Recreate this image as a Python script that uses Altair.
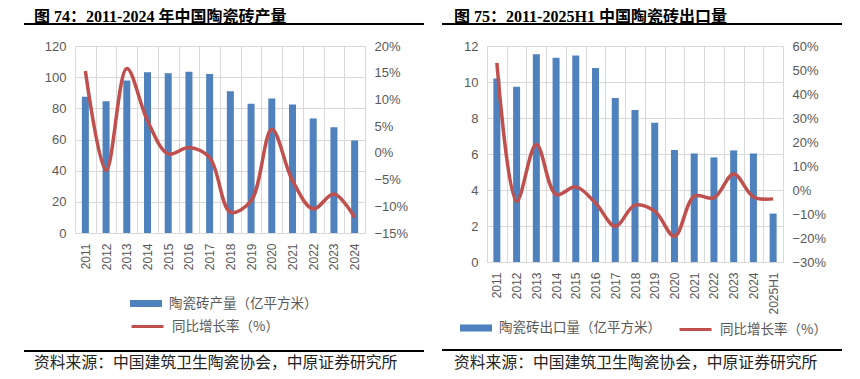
import altair as alt
import pandas as pd

# ---------------- data ----------------
years1 = [str(y) for y in range(2011, 2025)]
production = [87.5, 84.6, 97.8, 103.1, 102.5, 103.4, 102.0, 91.0, 82.9, 86.3, 82.4, 73.5, 67.9, 59.4]
production_growth = [15.3, -3.3, 15.8, 6.0, -0.2, 1.0, -0.9, -11.1, -9.0, 4.4, -5.2, -10.5, -7.7, -12.1]

years2 = [str(y) for y in range(2011, 2025)] + ["2025H1"]
exports = [10.19, 9.74, 11.54, 11.35, 11.47, 10.78, 9.11, 8.44, 7.74, 6.22, 6.03, 5.81, 6.20, 6.03, 2.69]
export_growth = [53.0, -4.7, 19.0, -1.9, 1.3, -5.4, -15.1, -6.3, -8.8, -19.3, -2.6, -3.3, 6.7, -2.9, -3.7]

title1 = "图 74：2011-2024 年中国陶瓷砖产量"
title2 = "图 75：2011-2025H1 中国陶瓷砖出口量"
bar_label1 = "陶瓷砖产量（亿平方米）"
bar_label2 = "陶瓷砖出口量（亿平方米）"
line_label = "同比增长率（%）"
source_text = "资料来源：中国建筑卫生陶瓷协会，中原证券研究所"

BLUE = "#4F81BD"
RED = "#C0504D"
GRID = "#D9D9D9"
LABEL = "#595959"
CJK = "Noto Sans CJK SC"
TITLE_FONT = "Liberation Serif, Noto Sans CJK SC"


def panel(years, values, growth, bar_label, y_max, y_step, g_min, g_max, g_step,
          width, height, title, title_x, rule_x1, rule_x2, bottom_rule_y,
          fill_legend, stroke_legend):
    df = pd.DataFrame({
        "year": years,
        "value": values,
        "growth": [g / 100 for g in growth],
        "bar_series": bar_label,
        "line_series": line_label,
    })
    one = pd.DataFrame({"k": [0]})

    x = alt.X(
        "year:N", sort=years,
        scale=alt.Scale(paddingInner=0, paddingOuter=0),
        axis=alt.Axis(title=None, labelAngle=-90, tickBand="extent", grid=True,
                      ticks=False, domain=False, labelPadding=10, labelFontSize=12),
    )

    bars = alt.Chart(df).mark_bar(size=7, color=BLUE).encode(
        x=x,
        y=alt.Y("value:Q",
                scale=alt.Scale(domain=[0, y_max], nice=False, zero=True),
                axis=alt.Axis(orient="left", title=None, grid=True, ticks=False,
                              domain=False, labelPadding=9, labelFontSize=13,
                              values=list(range(0, y_max + 1, y_step)))),
        fill=alt.Fill("bar_series:N",
                      scale=alt.Scale(domain=[bar_label], range=[BLUE]),
                      legend=alt.Legend(title=None, orient="none", padding=0,
                                        symbolType="M-1,-0.22H1V0.22H-1Z",
                                        symbolSize=1024, symbolStrokeWidth=0,
                                        symbolOpacity=1, labelLimit=400,
                                        labelFont=CJK, labelFontSize=13.5,
                                        labelColor=LABEL, labelOffset=7,
                                        **fill_legend)),
    )

    line = alt.Chart(df).mark_line(interpolate="catmull-rom", strokeWidth=3.5).encode(
        x=x,
        y=alt.Y("growth:Q",
                scale=alt.Scale(domain=[g_min / 100, g_max / 100], nice=False, zero=False),
                axis=alt.Axis(orient="right", title=None, grid=False, ticks=False,
                              domain=False, labelPadding=9, format=".0%", labelFontSize=13,
                              values=[v / 100 for v in range(g_min, g_max + 1, g_step)])),
        stroke=alt.Stroke("line_series:N",
                          scale=alt.Scale(domain=[line_label], range=[RED]),
                          legend=alt.Legend(title=None, orient="none", padding=0,
                                            symbolType="stroke", symbolSize=1024,
                                            symbolStrokeWidth=3, labelLimit=400,
                                            labelFont=CJK, labelFontSize=13.5,
                                            labelColor=LABEL, labelOffset=7,
                                            **stroke_legend)),
    )

    header = alt.Chart(one).mark_text(
        text=title, align="left", baseline="top", font=TITLE_FONT,
        fontSize=16, fontWeight="bold", color="#000000",
    ).encode(x=alt.value(title_x), y=alt.value(-37))

    top_rule = alt.Chart(one).mark_rule(color="#000000", strokeWidth=2).encode(
        x=alt.value(rule_x1), x2=alt.value(rule_x2), y=alt.value(-22))

    bottom_rule = alt.Chart(one).mark_rule(color="#000000", strokeWidth=2).encode(
        x=alt.value(rule_x1), x2=alt.value(rule_x2), y=alt.value(bottom_rule_y))

    source = alt.Chart(one).mark_text(
        text=source_text, align="left", baseline="middle", font=CJK,
        fontSize=15.8, color="#222222",
    ).encode(x=alt.value(title_x), y=alt.value(317))

    return alt.layer(bars, line, header, top_rule, bottom_rule, source).resolve_scale(
        y="independent").properties(width=width, height=height)


p1 = panel(years1, production, production_growth, bar_label1, 120, 20, -15, 20, 5,
           290, 187, title1, -41, -51, 349, 305,
           fill_legend=dict(legendX=55, legendY=241.5),
           stroke_legend=dict(legendX=55, legendY=263))

p2 = panel(years2, exports, export_growth, bar_label2, 12, 2, -30, 60, 10,
           296, 216, title2, -33, -45, 355, 304,
           fill_legend=dict(legendX=-27, legendY=266),
           stroke_legend=dict(legendX=191, legendY=266))

chart = alt.hconcat(p1, p2, spacing=122, bounds="flush").resolve_scale(
    fill="independent", stroke="independent"
).properties(
    padding={"left": 14, "top": 0, "right": 0, "bottom": 0}
).configure_view(
    stroke=GRID
).configure_axis(
    labelFont="Liberation Sans", labelColor=LABEL, gridColor=GRID
)

chart.save("out.html", embed_options={"renderer": "svg", "actions": False})
